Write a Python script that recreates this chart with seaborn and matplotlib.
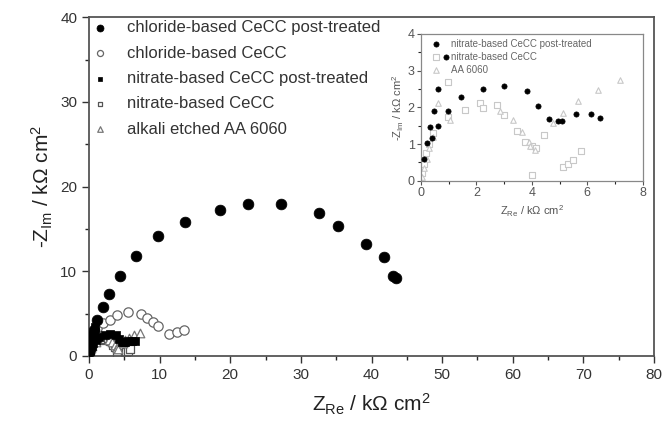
import matplotlib
matplotlib.use("Agg")
import matplotlib.pyplot as plt
import seaborn as sns
import pandas as pd
from matplotlib.ticker import MultipleLocator

sns.set_style("ticks")
plt.rcParams['font.family'] = ['Liberation Sans', 'DejaVu Sans']
plt.rcParams['mathtext.fontset'] = 'custom'
plt.rcParams['mathtext.rm'] = 'Liberation Sans'
plt.rcParams['mathtext.it'] = 'Liberation Sans'

# chloride-based CeCC post-treated (filled circles)
chl_pt_x = [0.05, 0.15, 0.35, 0.7, 1.18, 2.0, 2.84, 4.4, 6.63, 9.8, 13.6, 18.5, 22.5, 27.2, 32.6, 35.2, 39.2, 41.8, 43.1, 43.4]
chl_pt_y = [0.5, 1.3, 2.2, 3.1, 4.25, 5.75, 7.36, 9.45, 11.8, 14.2, 15.86, 17.2, 17.95, 17.95, 16.9, 15.35, 13.2, 11.65, 9.48, 9.24]

# chloride-based CeCC (open circles)
chl_x = [0.15, 0.3, 0.6, 1.2, 2.0, 2.98, 3.93, 5.54, 7.34, 8.28, 9.09, 9.8, 11.36, 12.45, 13.5]
chl_y = [0.7, 1.5, 2.5, 3.3, 3.9, 4.25, 4.84, 5.2, 4.96, 4.52, 4.05, 3.58, 2.6, 2.83, 3.07]

# nitrate-based CeCC post-treated (filled squares / inset black dots)
nit_pt_x = [0.1, 0.23, 0.41, 0.33, 0.47, 0.61, 0.91, 0.63, 0.97, 1.44, 2.25, 2.99, 3.81, 4.21, 4.62, 4.95, 5.07, 5.59, 6.12, 6.45]
nit_pt_y = [0.6, 1.03, 1.16, 1.46, 1.90, 2.50, 3.38, 1.50, 1.90, 2.27, 2.50, 2.57, 2.45, 2.04, 1.68, 1.64, 1.64, 1.81, 1.81, 1.72]

# nitrate-based CeCC (open squares)
nit_x = [0.05, 0.1, 0.18, 0.28, 0.42, 0.98, 0.96, 1.6, 2.13, 2.25, 2.73, 3.0, 3.45, 3.75, 4.0, 4.15, 4.44, 4.01, 5.13, 5.3, 5.47, 5.76]
nit_y = [0.2, 0.45, 0.75, 1.0, 1.3, 1.75, 2.69, 1.93, 2.11, 1.98, 2.07, 1.8, 1.35, 1.05, 0.95, 0.9, 1.25, 0.16, 0.39, 0.45, 0.57, 0.8]

# alkali etched AA 6060 (open triangles)
aa_x = [0.05, 0.12, 0.2, 0.3, 0.45, 0.63, 1.05, 2.85, 3.33, 3.63, 3.9, 3.95, 4.1, 4.77, 5.13, 5.67, 6.39, 7.17]
aa_y = [0.1, 0.35, 0.6, 0.9, 1.2, 2.11, 1.65, 1.89, 1.66, 1.34, 1.07, 0.95, 0.85, 1.57, 1.84, 2.16, 2.48, 2.75]

labels = ["chloride-based CeCC post-treated", "chloride-based CeCC",
          "nitrate-based CeCC post-treated", "nitrate-based CeCC",
          "alkali etched AA 6060"]
inset_labels = ["nitrate-based CeCC post-treated", "nitrate-based CeCC", "AA 6060"]

fig = plt.figure(figsize=(6.64, 4.4), dpi=100)
ax = fig.add_axes([0.134, 0.191, 0.851, 0.770])

def scat(a, x, y, marker, face, edge, s, label, lw=1.0, z=2):
    df = pd.DataFrame({"x": x, "y": y})
    sns.scatterplot(data=df, x="x", y="y", ax=a, marker=marker, s=s,
                    facecolor=face, edgecolor=edge, linewidth=lw, label=label, zorder=z)

scat(ax, nit_x, nit_y, "s", "white", "#555555", 30, labels[3], 0.9)
scat(ax, aa_x, aa_y, "^", "white", "#777777", 38, labels[4], 0.9)
scat(ax, nit_pt_x, nit_pt_y, "s", "black", "black", 30, labels[2], 0.5, 3)
scat(ax, chl_x, chl_y, "o", "white", "#666666", 45, labels[1], 0.9)
scat(ax, chl_pt_x, chl_pt_y, "o", "black", "black", 60, labels[0], 0.5, 4)

ax.set_xlim(0, 80)
ax.set_ylim(0, 40)
ax.xaxis.set_major_locator(MultipleLocator(10))
ax.xaxis.set_minor_locator(MultipleLocator(5))
ax.yaxis.set_major_locator(MultipleLocator(10))
ax.yaxis.set_minor_locator(MultipleLocator(5))
ax.tick_params(which='major', direction='out', length=5, width=1, labelsize=11, colors='#333333')
ax.tick_params(which='minor', direction='out', length=3, width=1)
for sp in ax.spines.values():
    sp.set_visible(True)
    sp.set_linewidth(1.3)
    sp.set_color('#555555')
ax.set_xlabel("$Z_{Re}$ / k\u03a9 cm$^2$", fontsize=15, color='#222222', labelpad=7)
ax.set_ylabel("-$Z_{Im}$ / k\u03a9 cm$^2$", fontsize=15, color='#222222', labelpad=4)

h, l = ax.get_legend_handles_labels()
order = [l.index(t) for t in labels]
ax.legend([h[i] for i in order], [l[i] for i in order], loc='upper left',
          frameon=False, fontsize=12, labelcolor='#333333', handletextpad=1.2,
          borderaxespad=0.0, labelspacing=0.62, markerscale=0.65,
          borderpad=0.2, handlelength=0.9, bbox_to_anchor=(0.0, 1.0))

# inset
ins = fig.add_axes([0.634, 0.589, 0.334, 0.334])
scat(ins, nit_x, nit_y, "s", "white", "#c8c8c8", 14, inset_labels[1], 0.8)
scat(ins, aa_x, aa_y, "^", "white", "#c8c8c8", 16, inset_labels[2], 0.8)
scat(ins, nit_pt_x, nit_pt_y, "o", "black", "black", 14, inset_labels[0], 0.5, 3)
ins.set_xlim(0, 8)
ins.set_ylim(0, 4)
ins.xaxis.set_major_locator(MultipleLocator(2))
ins.xaxis.set_minor_locator(MultipleLocator(1))
ins.yaxis.set_major_locator(MultipleLocator(1))
ins.yaxis.set_minor_locator(MultipleLocator(0.5))
ins.tick_params(which='major', direction='out', length=3, width=0.8, labelsize=9, colors='#555555', pad=1.5)
ins.tick_params(which='minor', direction='out', length=2, width=0.8)
for sp in ins.spines.values():
    sp.set_visible(True)
    sp.set_linewidth(0.9)
    sp.set_color('#888888')
ins.set_xlabel("$Z_{Re}$ / k\u03a9 cm$^2$", fontsize=8, color='#555555', labelpad=3)
ins.set_ylabel("-$Z_{Im}$ / k\u03a9 cm$^2$", fontsize=8, color='#555555', labelpad=1)
h2, l2 = ins.get_legend_handles_labels()
order2 = [l2.index(t) for t in inset_labels]
ins.legend([h2[i] for i in order2], [l2[i] for i in order2], loc='upper left',
           frameon=False, fontsize=7, labelcolor='#666666', handletextpad=0.6,
           borderaxespad=0.1, labelspacing=0.3)

fig.savefig("out.png", dpi=100)
